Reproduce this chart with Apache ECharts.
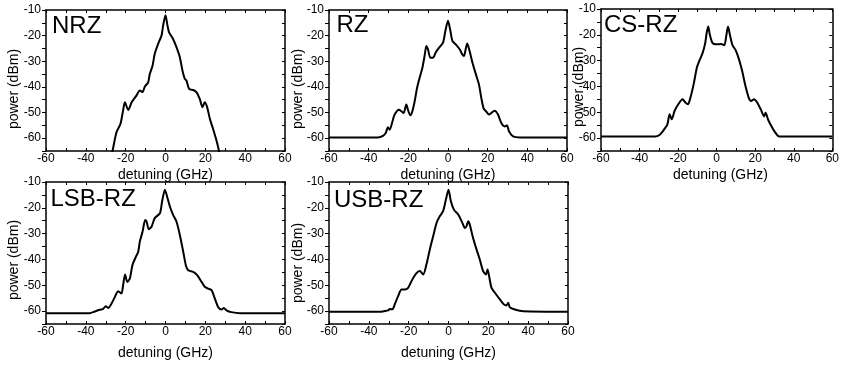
<!DOCTYPE html>
<html>
<head>
<meta charset="utf-8">
<script src="https://cdn.jsdelivr.net/npm/echarts@6/dist/echarts.min.js"></script>
<style>
  html, body { margin: 0; padding: 0; background: #fff; }
  #chart { width: 842px; height: 366px; }
</style>
</head>
<body>
<div id="chart"></div>
<script>
// Optical spectra of five modulation formats: detuning (GHz) vs power (dBm)
const panelNames = ['NRZ', 'RZ', 'CS-RZ', 'LSB-RZ', 'USB-RZ'];
const xTicks = [-60, -40, -20, 0, 20, 40, 60];
const yTicks = [-60, -50, -40, -30, -20, -10];

const nrzDetuning = [-28, -26.6, -24.6, -22.6, -21.3, -20.4, -18.7, -17, -14.6, -12.9, -11.5, -10.4, -8.7, -7.9, -6.5, -5.4, -3.7, -2, -1.2, 0, 1, 1.8, 3.8, 5.5, 7.2, 8.5, 9.7, 10.5, 11.9, 13.9, 15.6, 17.2, 18.6, 19.7, 20.9, 22.3, 23.9, 25.6, 26.8, 28];
const nrzPower = [-70, -65, -57.7, -54.4, -49.2, -46, -49, -46, -43.4, -41.4, -42, -39.9, -38.2, -35, -31.7, -27.1, -23.2, -20, -16.1, -12, -16.1, -18.7, -21.3, -24.5, -28.4, -33.6, -36.9, -37.5, -40.8, -41.2, -42.1, -44.7, -47.9, -46, -47.9, -52.5, -56.4, -60.9, -64.8, -70];

const rzDetuning = [-60, -35.3, -32.8, -31.4, -30.3, -29.4, -28, -26.9, -24.7, -23.5, -22.4, -21, -20.2, -19, -18, -16.8, -15.6, -14.3, -12.9, -11.8, -10.9, -10.1, -8.9, -7.6, -6.2, -4.5, -2.5, -1.3, 0, 1.2, 2.2, 3.9, 5.9, 7.2, 8.1, 8.9, 9.7, 10.9, 12.3, 14.3, 15.6, 16.8, 18, 19.3, 20.7, 21.8, 23.5, 25.2, 26.9, 28.6, 29.7, 30.8, 32.8, 36.1, 60];
const rzPower = [-59.7, -59.7, -59.1, -58, -55.7, -56.7, -53.5, -50.8, -48.9, -49.5, -50.2, -46.9, -48.9, -51.1, -49.6, -45.6, -40.4, -36.4, -32.5, -27.9, -24, -25.3, -28.6, -28.6, -26.6, -24.7, -22.7, -18.1, -14.2, -18.1, -22, -23.4, -25.3, -27.3, -27.9, -25.3, -23.1, -26, -30.5, -35.7, -39, -44.3, -48.5, -49.6, -50.8, -50.2, -49.3, -50.8, -54.1, -55.4, -55, -57.4, -59.3, -59.7, -59.7];

const csrzDetuning = [-60, -32, -29.5, -27.3, -25.6, -24.4, -23.3, -21.9, -19.9, -17.7, -16.1, -14.9, -13.6, -11.9, -10.2, -8.9, -7.4, -6, -5.2, -4.4, -3.5, -2.2, -0.2, 2.3, 4, 4.9, 5.9, 6.9, 8.2, 9.9, 11.5, 13.2, 14.9, 16.6, 17.9, 19.4, 21.1, 22.9, 24.6, 25.4, 26.6, 27.9, 30, 32.5, 60];
const csrzPower = [-59.4, -59.4, -58.7, -56.7, -54.8, -50.8, -52.7, -49.6, -46.9, -45, -46.3, -46.9, -44.3, -39, -32.5, -29.9, -27.3, -23.4, -19.4, -16.8, -20.1, -23.1, -23.7, -23.6, -24, -20.8, -16.8, -20.1, -24, -26, -29.3, -33.9, -39.7, -44.3, -45.6, -45, -46.3, -48.9, -51.6, -50.2, -52.7, -54.7, -57.4, -59.4, -59.4];

const lsbDetuning = [-60, -38, -36.3, -33.8, -31.3, -30, -28.8, -27.1, -25.4, -23.8, -22.1, -21.3, -20.3, -19.2, -17.9, -16.6, -14.9, -13.7, -12.9, -11.5, -10.2, -9.5, -8.4, -7, -5.4, -2.8, -1.7, -0.3, 1, 2.2, 3.8, 5.5, 7.2, 8.9, 10.2, 11.4, 13.9, 15.9, 18.1, 19.7, 21.4, 23.1, 24.8, 26.4, 28.1, 29.3, 30.6, 33.1, 37.3, 60];
const lsbPower = [-60.8, -60.8, -60.4, -59.7, -59.1, -58.1, -58.8, -57.1, -54.5, -52.3, -53.2, -50, -45.8, -48.7, -47.4, -42.2, -39, -37, -33.1, -29.2, -24.7, -25.3, -28.3, -27.3, -24, -22.1, -17.5, -13, -16.2, -19.5, -22.7, -25.3, -30.5, -37, -42.2, -44.2, -44.8, -46.1, -48.7, -50.6, -51.3, -51.9, -55.2, -58.4, -59.4, -58.8, -59.7, -60.4, -60.8, -60.8];

const usbDetuning = [-60, -34.5, -32, -30.3, -29.5, -28.1, -27, -25.3, -23.6, -21.9, -20.3, -18.6, -16.4, -14.4, -12.7, -11.1, -9.4, -7.7, -6, -4.4, -2.7, -1.3, 0, 1.2, 2.7, 4.9, 7, 8.2, 9, 9.9, 10.7, 12.1, 14.1, 15.7, 17.4, 18.8, 19.6, 20.4, 21.6, 23.3, 25.8, 27.8, 29.1, 30, 30.8, 33.3, 37.5, 60];
const usbPower = [-60.3, -60.3, -60, -59.7, -59.2, -59.3, -57.4, -54.2, -51.6, -51.6, -51, -48.4, -45.6, -44.5, -45.8, -42, -36.2, -31, -25.9, -23.3, -21.3, -16.8, -13, -17.5, -20.7, -22.6, -25.9, -27.8, -27.2, -25.2, -26.5, -31, -36.2, -40, -44.5, -45.8, -43.9, -46.5, -51, -52.9, -55.5, -57.4, -57.8, -56.8, -58.5, -59.4, -60.1, -60.3];

const spectra = [
  [nrzDetuning, nrzPower],
  [rzDetuning, rzPower],
  [csrzDetuning, csrzPower],
  [lsbDetuning, lsbPower],
  [usbDetuning, usbPower]
];

// Panel frames in pixels
const panels = [
  { left: 46,  top: 10,  width: 239, height: 141 },
  { left: 329, top: 10,  width: 238, height: 141 },
  { left: 601, top: 9,   width: 239, height: 142 },
  { left: 46,  top: 182, width: 239, height: 142 },
  { left: 329, top: 182, width: 239, height: 142 }
];
const labelPos = [[52, 14.5], [336.5, 13], [604, 13], [50.5, 187.5], [334, 188]];
const yTitlePos = [[14, 89], [298.5, 89], [579, 87], [14, 260], [298.5, 263]];
const xTitleBaseY = [175, 175, 175, 353, 353];

const FONT = '"Liberation Sans", Arial, Helvetica, sans-serif';
const black = '#000';
const axisLine = { show: true, onZero: false, lineStyle: { color: black, width: 1.5 } };

const grid = [], xAxis = [], yAxis = [], series = [], graphic = [];

panels.forEach((p, i) => {
  grid.push({ left: p.left, top: p.top, width: p.width, height: p.height, containLabel: false });

  // bottom axis with labels
  xAxis.push({
    gridIndex: i, type: 'value', position: 'bottom',
    min: xTicks[0], max: xTicks[xTicks.length - 1], interval: 20,
    axisLine,
    axisTick: { show: true, inside: true, length: 3, lineStyle: { color: black, width: 1 } },
    minorTick: { show: true, splitNumber: 2, length: 3, lineStyle: { color: black, width: 1 } },
    axisLabel: { color: black, fontSize: 12, fontFamily: FONT, margin: 2, showMinLabel: true, showMaxLabel: true },
    splitLine: { show: false }
  });
  // top frame
  xAxis.push({
    gridIndex: i, type: 'value', position: 'top',
    min: -60, max: 60, interval: 10,
    axisLine,
    axisTick: { show: true, inside: true, length: 3, lineStyle: { color: black, width: 1 } },
    axisLabel: { show: false },
    splitLine: { show: false }
  });
  // left axis with labels
  yAxis.push({
    gridIndex: i, type: 'value', position: 'left',
    min: -65, max: yTicks[yTicks.length - 1], interval: 5,
    axisLine,
    axisTick: { show: true, inside: false, length: 4, lineStyle: { color: black, width: 1 } },
    axisLabel: {
      color: black, fontSize: 12, fontFamily: FONT, margin: 5,
      formatter: v => (yTicks.indexOf(v) >= 0 ? String(v) : '')
    },
    splitLine: { show: false }
  });
  // right frame
  yAxis.push({
    gridIndex: i, type: 'value', position: 'right',
    min: -65, max: -10, interval: 5,
    axisLine,
    axisTick: { show: true, inside: true, length: 3, lineStyle: { color: black, width: 1 } },
    axisLabel: { show: false },
    splitLine: { show: false }
  });

  const [xs, ys] = spectra[i];
  series.push({
    type: 'line',
    xAxisIndex: 2 * i, yAxisIndex: 2 * i,
    data: xs.map((x, k) => [x, ys[k]]),
    showSymbol: false, symbol: 'none',
    smooth: 0.25,
    clip: true,
    lineStyle: { color: black, width: 2 }
  });

  graphic.push({
    type: 'text', x: labelPos[i][0], y: labelPos[i][1],
    style: { text: panelNames[i], font: '24px ' + FONT, fill: black, align: 'left', verticalAlign: 'top' }
  });
  graphic.push({
    type: 'text', x: yTitlePos[i][0], y: yTitlePos[i][1], rotation: Math.PI / 2,
    style: { text: 'power (dBm)', font: '14px ' + FONT, fill: black, align: 'center', verticalAlign: 'middle' }
  });
  graphic.push({
    type: 'text', x: p.left + p.width / 2, y: xTitleBaseY[i],
    style: { text: 'detuning (GHz)', font: '14px ' + FONT, fill: black, align: 'center', verticalAlign: 'middle' }
  });
});

const chart = echarts.init(document.getElementById('chart'), null, { renderer: 'canvas' });
chart.setOption({
  animation: false,
  backgroundColor: '#fff',
  grid, xAxis, yAxis, series, graphic
});
</script>
</body>
</html>
